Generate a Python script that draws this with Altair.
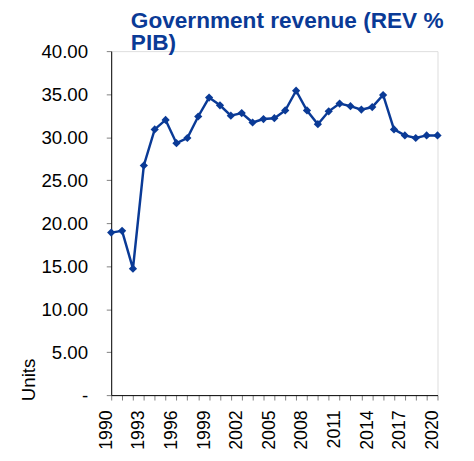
import altair as alt
import pandas as pd

years = list(range(1990, 2021))
revenue = [18.9, 19.1, 14.7, 26.7, 30.9, 32.0, 29.3, 29.9, 32.4, 34.6,
           33.7, 32.5, 32.8, 31.7, 32.1, 32.2, 33.1, 35.4, 33.1, 31.5,
           33.0, 33.9, 33.6, 33.2, 33.5, 34.9, 30.9, 30.2, 29.9, 30.2, 30.2]
title_lines = ["Government revenue (REV %", "PIB)"]
y_ticks = [0, 5, 10, 15, 20, 25, 30, 35, 40]

df = pd.DataFrame({"year": years, "value": revenue})

color = "#0A3A96"
font = "Liberation Sans"

x = alt.X("year:Q",
          scale=alt.Scale(domain=[1990, 2020], nice=False, zero=False),
          axis=alt.Axis(values=years, title=None, grid=False,
                        labelExpr="datum.value % 3 == 1 ? format(datum.value, 'd') : ''",
                        labelAngle=-90, labelAlign="right", labelBaseline="alphabetic",
                        labelFont=font, labelFontSize=18, labelColor="#000000",
                        labelPadding=10, tickSize=5, tickColor="#808080",
                        domainColor="#000000", labelOverlap=False, labelFlush=False))
y = alt.Y("value:Q",
          scale=alt.Scale(domain=[0, 40], nice=False),
          axis=alt.Axis(values=y_ticks, title="Units", grid=False,
                        labelExpr="datum.value == 0 ? '-' : format(datum.value, '.2f')",
                        labelFont=font, labelFontSize=19, labelColor="#000000",
                        labelPadding=19, tickSize=5, tickColor="#808080",
                        domainColor="#000000",
                        titleFont=font, titleFontSize=19, titleFontWeight="normal",
                        titleColor="#000000", titleX=-84, titleY=334,
                        titleAlign="center", titleBaseline="middle", titleAngle=-90))

base = alt.Chart(df)
line = base.mark_line(color=color, strokeWidth=2.5).encode(x=x, y=y)
pts = base.mark_point(shape="diamond", filled=True, color=color, size=70, opacity=1).encode(x=x, y=y)

chart = alt.layer(line, pts).properties(
    width=332, height=350,
    title=alt.TitleParams(title_lines, anchor="start", frame="group", dx=20,
                          font=font, fontSize=23, fontWeight="bold", color=color,
                          lineHeight=23, baseline="top", offset=-13),
    autosize=alt.AutoSizeParams(type="none"),
    padding={"left": 105, "top": 40, "right": 29, "bottom": 55},
).configure_view(stroke=None).configure(background="white")

chart.save("out.html", embed_options={"renderer": "svg", "actions": False})
